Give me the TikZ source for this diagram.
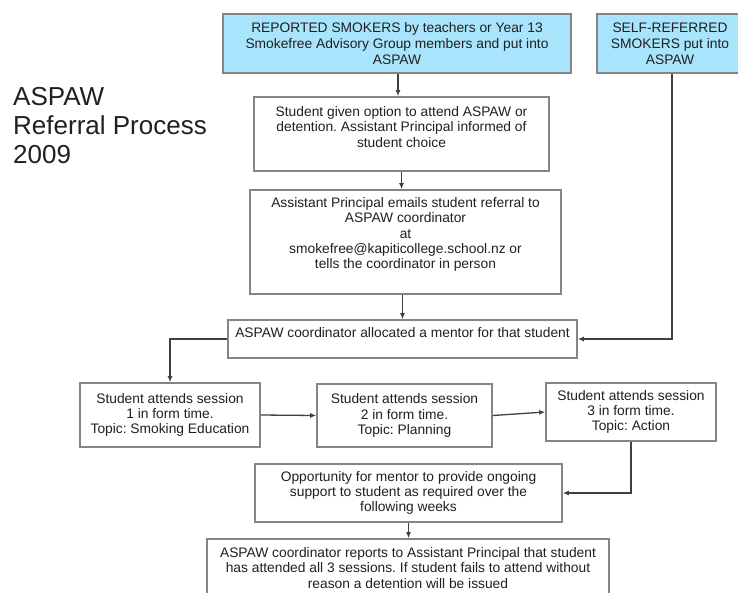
\documentclass[tikz,border=0pt]{standalone}
\usepackage{fontspec}
\setmainfont{Liberation Sans}
\usetikzlibrary{arrows.meta}
\frenchspacing
\definecolor{boxblue}{HTML}{A8E4FC}
\definecolor{boxline}{HTML}{858585}
\definecolor{arrline}{HTML}{404040}
\definecolor{txt}{HTML}{202020}
\tikzset{
  box/.style={draw=boxline, line width=1.6pt, inner sep=0pt, align=center, text=txt,
    font=\fontsize{13.8}{15.3}\selectfont},
  bluebox/.style={box, fill=boxblue, font=\fontsize{13.8}{16}\selectfont},
  boxtext/.style={inner sep=0pt, align=center, text=txt, anchor=north,
    font=\fontsize{13.8}{15.3}\selectfont},
  arr/.style={draw=arrline, line width=1.3pt, -{Latex[length=6pt,width=5pt]}},
}
\begin{document}
\begin{tikzpicture}[x=1pt,y=-1pt]
\useasboundingbox (0,0) rectangle (738,592);
\clip (0,0) rectangle (738,592);
\fill[white] (0,0) rectangle (738,592);

% title
\node[anchor=base west, inner sep=0pt, align=left, text=txt,
  font=\fontsize{26}{29}\selectfont] (title) at (13,163) {ASPAW\\Referral Process\\2009};

% boxes
\node[bluebox, minimum width=348pt, minimum height=59pt] (a) at (397,43.5)
  {REPORTED SMOKERS by teachers or Year 13\\Smokefree Advisory Group members and put into\\ASPAW};
\node[bluebox, minimum width=146pt, minimum height=59pt] (b) at (670,43.5)
  {SELF-REFERRED\\SMOKERS put into\\ASPAW};

\node[box, minimum width=295pt, minimum height=74pt] (c) at (401.5,134) {};
\node[boxtext] (ct) at ([yshift=-10pt]c.north)
  {Student given option to attend ASPAW or\\detention. Assistant Principal informed of\\student choice};

\node[box, minimum width=311pt, minimum height=104pt] (d) at (405.5,242) {};
\node[boxtext] (dt) at ([yshift=-8pt]d.north)
  {Assistant Principal emails student referral to\\ASPAW coordinator\\at\\smokefree@kapiticollege.school.nz or\\tells the coordinator in person};

\node[box, minimum width=349pt, minimum height=38pt] (e) at (402.5,339) {};
\node[boxtext] (et) at ([yshift=-8pt]e.north)
  {ASPAW coordinator allocated a mentor for that student};

\node[box, minimum width=180pt, minimum height=64pt] (f) at (170,415)
  {Student attends session\\1 in form time.\\Topic: Smoking Education};
\node[box, minimum width=175pt, minimum height=63pt] (g) at (404.5,415.5)
  {Student attends session\\2 in form time.\\Topic: Planning};
\node[box, minimum width=170pt, minimum height=58pt] (h) at (631,412)
  {Student attends session\\3 in form time.\\Topic: Action};

\node[box, minimum width=307pt, minimum height=58pt] (i) at (408.5,493)
  {Opportunity for mentor to provide ongoing\\support to student as required over the\\following weeks};

\node[box, minimum width=402pt, minimum height=70pt] (j) at (408,574) {};
\node[boxtext] (jt) at ([yshift=-9pt]j.north)
  {ASPAW coordinator reports to Assistant Principal that student\\has attended all 3 sessions. If student fails to attend without\\reason a detention will be issued};

% connectors
\coordinate (ac) at (398,0);
\draw[arr] (a.south -| ac) -- (c.north -| ac);
\draw[arr] (c.south) -- (d.north -| c.south);
\draw[arr] (d.south -| e.north) -- (e.north);
\coordinate (bx) at (672,0);
\draw[arr] (b.south -| bx) -- (e.east -| bx) -- (e.east);
\draw[arr] (e.west) -- (e.west -| f.north) -- (f.north);
\draw[arr] (f.east) -- (g.west);
\draw[arr] (g.east) -- (h.west);
\draw[arr] (h.south) -- (h.south |- i.east) -- (i.east);
\draw[arr] (i.south) -- (j.north -| i.south);
\end{tikzpicture}
\end{document}
